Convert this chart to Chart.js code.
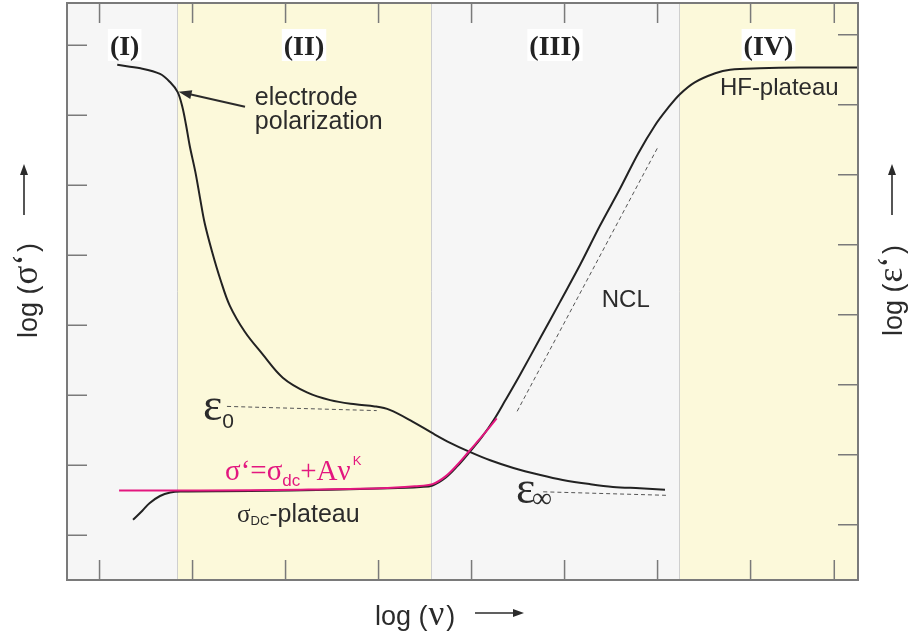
<!DOCTYPE html>
<html lang="en">
<head>
<meta charset="UTF-8">
<title>Dielectric spectrum - regions I to IV</title>
<script src="https://cdn.jsdelivr.net/npm/chart.js"></script>
<style>
    body { margin: 0; background: #fff; }
    canvas { display: block; }
</style>
</head>
<body>
<canvas id="spectrum" width="909" height="636"></canvas>
<script>
// x = log(frequency), y = log of the plotted quantity, arbitrary decades
const xTicks = [0.35, 1.35, 2.35, 3.35, 4.35, 5.35, 6.35, 7.35, 8.25];
const yTicksLeft = [0.64, 1.64, 2.64, 3.64, 4.64, 5.64, 6.64, 7.64];
const yTicksRight = [0.79, 1.79, 2.79, 3.79, 4.79, 5.79, 6.79, 7.79];

// frequency regions (I)..(IV)
const regionNames = ['(I)', '(II)', '(III)', '(IV)'];
const regionEdges = [0, 1.183, 3.914, 6.58, 8.505];

// log eps' curve
const epsLogF = [0.54, 0.79, 1.00, 1.11, 1.19, 1.24, 1.28, 1.32, 1.38, 1.43, 1.48, 1.56, 1.65, 1.75, 1.91, 2.10, 2.32, 2.58, 2.83, 3.10, 3.31, 3.47, 3.72, 3.94, 4.12, 4.33, 4.55, 4.80, 5.09, 5.33, 5.62, 5.87, 6.16, 6.43];
const epsLogVal = [7.36, 7.31, 7.23, 7.11, 6.97, 6.76, 6.50, 6.20, 5.83, 5.46, 5.10, 4.69, 4.29, 3.92, 3.55, 3.23, 2.89, 2.68, 2.57, 2.51, 2.48, 2.43, 2.26, 2.09, 1.96, 1.83, 1.71, 1.60, 1.50, 1.43, 1.37, 1.33, 1.31, 1.29];

// log sigma' curve
const sigLogF = [0.71, 0.81, 0.89, 1.00, 1.11, 1.22, 1.97, 2.83, 3.47, 3.80, 3.93, 4.07, 4.20, 4.33, 4.46, 4.59, 4.71, 4.87, 5.09, 5.30, 5.52, 5.73, 5.95, 6.14, 6.32, 6.46, 6.59, 6.75, 6.97, 7.13, 7.45, 7.88, 8.51];
const sigLogVal = [0.86, 0.99, 1.10, 1.20, 1.25, 1.265, 1.27, 1.29, 1.31, 1.33, 1.35, 1.46, 1.63, 1.83, 2.04, 2.29, 2.56, 2.93, 3.46, 3.97, 4.51, 5.06, 5.60, 6.09, 6.49, 6.74, 6.94, 7.11, 7.24, 7.29, 7.31, 7.32, 7.32];

// fit sigma' = sigma_dc + A nu^K
const fitLogF = [0.56, 1.43, 2.51, 3.37, 3.74, 3.93, 4.07, 4.20, 4.33, 4.48, 4.62];
const fitLogVal = [1.28, 1.28, 1.29, 1.31, 1.34, 1.37, 1.48, 1.65, 1.85, 2.08, 2.31];

// dashed guides
const eps0LogF = [1.72, 3.33];
const eps0LogVal = [2.48, 2.42];
const epsInfLogF = [5.12, 6.44];
const epsInfLogVal = [1.26, 1.21];
const nclLogF = [4.84, 6.36];
const nclLogVal = [2.41, 6.20];

const SANS = '"Liberation Sans", Arial, sans-serif';
const SERIF = '"Liberation Serif", "Times New Roman", serif';
const INK = '#2b2b2b';
const PINK = '#e3177f';

function pts(xs, ys) {
    return xs.map((v, i) => ({ x: v, y: ys[i] }));
}

function drawRuns(ctx, x, y, parts, color) {
    ctx.fillStyle = color;
    ctx.textAlign = 'left';
    ctx.textBaseline = 'alphabetic';
    for (const p of parts) {
        ctx.font = p.f;
        ctx.fillText(p.t, x, y + (p.dy || 0));
        x += ctx.measureText(p.t).width + (p.sp || 0);
    }
    return x;
}

function arrow(ctx, x1, y1, x2, y2, len, half) {
    const a = Math.atan2(y2 - y1, x2 - x1);
    ctx.beginPath();
    ctx.moveTo(x1, y1);
    ctx.lineTo(x2 - Math.cos(a) * len * 0.8, y2 - Math.sin(a) * len * 0.8);
    ctx.stroke();
    ctx.beginPath();
    ctx.moveTo(x2, y2);
    ctx.lineTo(x2 - Math.cos(a) * len - Math.sin(a) * half, y2 - Math.sin(a) * len + Math.cos(a) * half);
    ctx.lineTo(x2 - Math.cos(a) * len + Math.sin(a) * half, y2 - Math.sin(a) * len - Math.cos(a) * half);
    ctx.closePath();
    ctx.fill();
}

const overlay = {
    id: 'overlay',
    beforeDatasetsDraw(chart) {
        const { ctx, chartArea: a, scales: { x, y } } = chart;
        ctx.save();
        for (let i = 0; i < regionNames.length; i++) {
            const l = x.getPixelForValue(regionEdges[i]);
            const r = x.getPixelForValue(regionEdges[i + 1]);
            ctx.fillStyle = i % 2 ? '#fcf9da' : '#f6f6f6';
            ctx.fillRect(l, a.top, r - l, a.bottom - a.top);
        }
        ctx.strokeStyle = '#cfcfcf';
        ctx.lineWidth = 1;
        for (let i = 1; i < regionEdges.length - 1; i++) {
            const px = Math.round(x.getPixelForValue(regionEdges[i])) + 0.5;
            ctx.beginPath();
            ctx.moveTo(px, a.top);
            ctx.lineTo(px, a.bottom);
            ctx.stroke();
        }
        ctx.restore();
    },
    afterDatasetsDraw(chart) {
        const { ctx, chartArea: a, scales: { x, y } } = chart;
        const P = (u, v) => [x.getPixelForValue(u), y.getPixelForValue(v)];
        ctx.save();

        // inward ticks
        ctx.strokeStyle = '#7a7a7a';
        ctx.lineWidth = 1.5;
        const tl = 20;
        ctx.beginPath();
        for (const v of xTicks) {
            const px = x.getPixelForValue(v);
            ctx.moveTo(px, a.top); ctx.lineTo(px, a.top + tl);
            ctx.moveTo(px, a.bottom); ctx.lineTo(px, a.bottom - tl);
        }
        for (const v of yTicksLeft) {
            const py = y.getPixelForValue(v);
            ctx.moveTo(a.left, py); ctx.lineTo(a.left + tl, py);
        }
        for (const v of yTicksRight) {
            const py = y.getPixelForValue(v);
            ctx.moveTo(a.right, py); ctx.lineTo(a.right - tl, py);
        }
        ctx.stroke();

        // frame
        ctx.lineWidth = 2;
        ctx.strokeRect(a.left, a.top, a.right - a.left, a.bottom - a.top);

        // region labels on white boxes
        ctx.font = `bold 28px ${SERIF}`;
        ctx.textAlign = 'center';
        ctx.textBaseline = 'alphabetic';
        for (let i = 0; i < regionNames.length; i++) {
            let cx = x.getPixelForValue((regionEdges[i] + regionEdges[i + 1]) / 2);
            if (i === 0) cx = x.getPixelForValue(0.62);
            const w = ctx.measureText(regionNames[i]).width + 4;
            ctx.fillStyle = '#fff';
            ctx.fillRect(cx - w / 2, a.top + 26, w, 32);
            ctx.fillStyle = '#222';
            ctx.fillText(regionNames[i], cx, a.top + 52);
        }

        // annotations
        ctx.textAlign = 'left';
        ctx.fillStyle = INK;
        ctx.font = `25px ${SANS}`;
        let p = P(2.02, 6.786); ctx.fillText('electrode', p[0], p[1]);
        p = P(2.02, 6.443); ctx.fillText('polarization', p[0], p[1]);
        ctx.font = `24px ${SANS}`;
        p = P(7.02, 6.93); ctx.fillText('HF-plateau', p[0], p[1]);
        p = P(5.75, 3.9); ctx.fillText('NCL', p[0], p[1]);

        ctx.strokeStyle = INK;
        ctx.fillStyle = INK;
        ctx.lineWidth = 2;
        const a1 = P(1.914, 6.76), a2 = P(1.2, 6.975);
        arrow(ctx, a1[0], a1[1], a2[0], a2[1], 13, 4.5);

        p = P(1.462, 2.286);
        drawRuns(ctx, p[0], p[1], [{ t: 'ε', f: `46px ${SERIF}` }, { t: '0', f: `21px ${SANS}`, dy: 8 }], INK);
        p = P(4.828, 1.1);
        ctx.font = `46px ${SERIF}`;
        ctx.fillText('ε', p[0], p[1]);
        p = P(5.0, 1.043);
        ctx.font = `28px ${SERIF}`;
        ctx.fillText('∞', p[0], p[1]);

        p = P(1.699, 1.429);
        drawRuns(ctx, p[0], p[1], [
            { t: 'σ‘=σ', f: `29px ${SERIF}` },
            { t: 'dc', f: `17px ${SANS}`, dy: 6 },
            { t: '+Aν', f: `29px ${SERIF}`, sp: 2 },
            { t: 'K', f: `13px ${SANS}`, dy: -15 }
        ], PINK);

        p = P(1.828, 0.829);
        drawRuns(ctx, p[0], p[1], [
            { t: 'σ', f: `25px ${SERIF}` },
            { t: 'DC', f: `13px ${SANS}`, dy: 3 },
            { t: '-plateau', f: `25px ${SANS}` }
        ], INK);

        // axis titles
        const titleParts = (sym) => [
            { t: 'log (', f: `27px ${SANS}`, sp: 1 },
            { t: sym, f: `35px ${SERIF}`, sp: 2 },
            { t: ')', f: `27px ${SANS}` }
        ];
        drawRuns(ctx, 375, 625, titleParts('ν'), INK);
        ctx.lineWidth = 1.6;
        arrow(ctx, 475, 613, 524, 613, 11, 4);

        ctx.save();
        ctx.translate(37, 338);
        ctx.rotate(-Math.PI / 2);
        drawRuns(ctx, 0, 0, titleParts('σ‘'), INK);
        ctx.restore();
        arrow(ctx, 24, 215, 24, 164, 11, 4);

        ctx.save();
        ctx.translate(902, 336);
        ctx.rotate(-Math.PI / 2);
        drawRuns(ctx, 0, 0, titleParts('ε‘'), INK);
        ctx.restore();
        arrow(ctx, 892, 215, 892, 164, 11, 4);

        ctx.restore();
    }
};

const curve = (xs, ys, color, width, dash) => ({
    data: pts(xs, ys),
    borderColor: color,
    borderWidth: width,
    borderDash: dash || [],
    pointRadius: 0,
    fill: false,
    tension: 0.35
});

new Chart(document.getElementById('spectrum'), {
    type: 'line',
    data: {
        datasets: [
            curve(fitLogF, fitLogVal, PINK, 2),
            curve(epsLogF, epsLogVal, '#222', 2),
            curve(sigLogF, sigLogVal, '#222', 2),
            curve(eps0LogF, eps0LogVal, '#555', 1, [4, 3]),
            curve(epsInfLogF, epsInfLogVal, '#555', 1, [4, 3]),
            curve(nclLogF, nclLogVal, '#555', 1, [4, 3])
        ]
    },
    options: {
        responsive: false,
        animation: false,
        devicePixelRatio: 1,
        layout: { padding: { left: 67, right: 51, top: 3, bottom: 56 } },
        scales: {
            x: { type: 'linear', min: 0, max: 8.505, display: false },
            y: { type: 'linear', min: 0, max: 8.243, display: false }
        },
        plugins: {
            legend: { display: false },
            tooltip: { enabled: false }
        }
    },
    plugins: [overlay]
});
</script>
</body>
</html>
